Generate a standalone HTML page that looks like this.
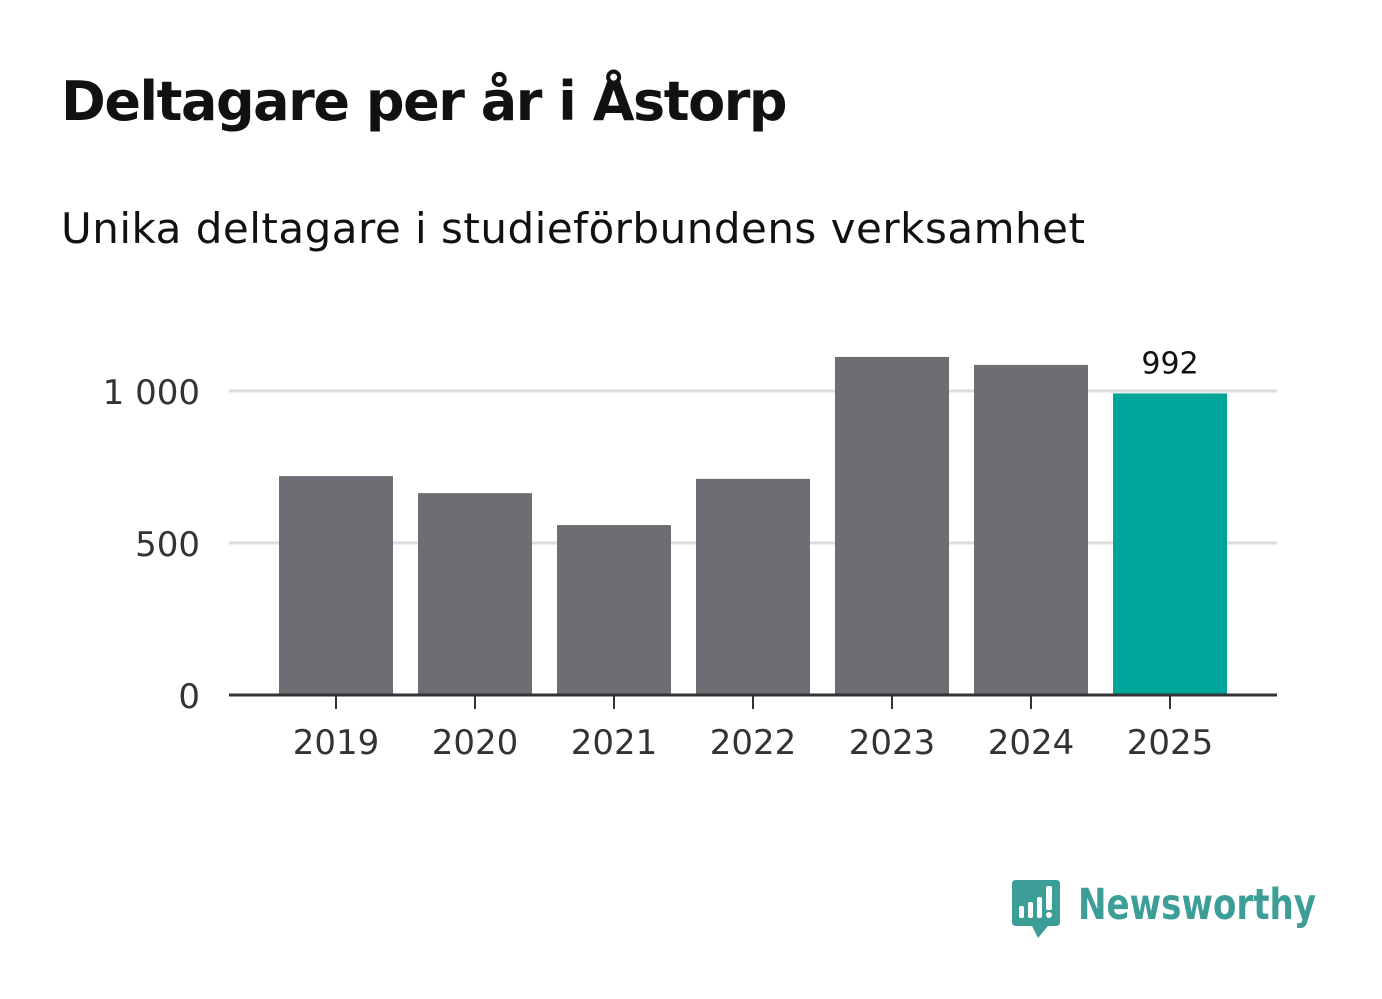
<!DOCTYPE html>
<html><head><meta charset="utf-8"><style>
body{margin:0;width:1382px;height:999px;background:#fff;font-family:"DejaVu Sans","Liberation Sans",sans-serif;overflow:hidden}
.t{position:absolute;left:61px;top:70px;font-size:54px;font-weight:bold;color:#111;margin:0;letter-spacing:-1.45px;white-space:nowrap}
.s{position:absolute;left:61px;top:204px;font-size:42px;color:#111;margin:0;letter-spacing:0.5px;white-space:nowrap}
</style></head><body>
<h1 class="t">Deltagare per år i Åstorp</h1>
<p class="s">Unika deltagare i studieförbundens verksamhet</p>
<svg id="c" width="1382" height="999" style="position:absolute;left:0;top:0"></svg>
<svg width="1382" height="999" style="position:absolute;left:0;top:0;pointer-events:none">
<path d="M1016 880 H1056 Q1060 880 1060 884 V922 Q1060 926 1056 926 H1048 L1038 938 L1032 926 H1016 Q1012 926 1012 922 V884 Q1012 880 1016 880Z" fill="#3d9e98"/>
<rect x="1019" y="906" width="5" height="12" rx="2" fill="#fff"/>
<rect x="1028" y="902" width="5" height="16" rx="2" fill="#fff"/>
<rect x="1037" y="897" width="5" height="21" rx="2" fill="#fff"/>
<rect x="1046" y="886" width="6" height="24" rx="2" fill="#fff"/>
<circle cx="1049" cy="915" r="3" fill="#fff"/>
<text x="1078" y="919" font-size="43" font-weight="bold" fill="#3d9e98" font-family="DejaVu Sans, Liberation Sans, sans-serif" textLength="238" lengthAdjust="spacingAndGlyphs">Newsworthy</text>
</svg>
<script>
const years=["2019","2020","2021","2022","2023","2024","2025"];
const values=[720,664,559,711,1112,1086,992];
const yTicks=[0,500,1000];
const yTickLabels=["0","500","1 000"];
const NS="http://www.w3.org/2000/svg";
const svg=document.getElementById('c');
const y0=695,pxPer=304/1000,x0=229,x1=1277,step=139,first=336,bw=114;
const y=v=>y0-v*pxPer;
const x=i=>first+i*step;
function mk(t,a){const e=document.createElementNS(NS,t);for(const k in a)e.setAttribute(k,a[k]);svg.appendChild(e);return e;}
yTicks.forEach((v,i)=>{
  if(v>0){const g=mk('line',{x1:x0,x2:x1,y1:y(v),y2:y(v),stroke:'#dcdcdc','stroke-width':3});
  
  }
  const t=mk('text',{x:200,y:y(v)+13,'text-anchor':'end','font-size':34,fill:'#333'});
  t.textContent=yTickLabels[i];
  
  
});
values.forEach((v,i)=>{
  const r=mk('rect',{x:x(i)-bw/2,y:y(v),width:bw,height:y0-y(v),fill:i==values.length-1?'#00a59a':'#6e6d73'});
  
  
  const tk=mk('line',{x1:x(i),x2:x(i),y1:y0,y2:y0+14,stroke:'#333','stroke-width':2});
  
  
  const t=mk('text',{x:x(i),y:754,'text-anchor':'middle','font-size':34,fill:'#333'});
  t.textContent=years[i];
  
  
});
const li=values.length-1;
const vl=mk('text',{x:x(li),y:y(values[li])-20,'text-anchor':'middle','font-size':30,fill:'#111'});
vl.textContent=String(values[li]);


const ax=mk('line',{x1:x0,x2:x1,y1:y0,y2:y0,stroke:'#333','stroke-width':3});


</script>
</body></html>
